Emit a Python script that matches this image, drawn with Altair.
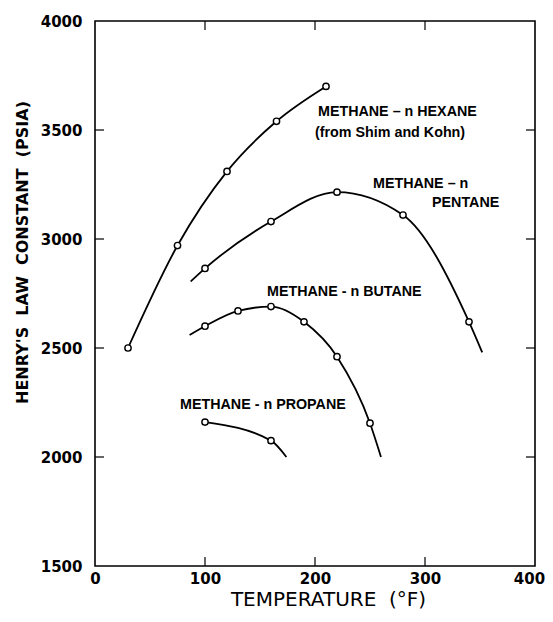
import altair as alt
import pandas as pd

# ---- measured points (temperature °F, Henry's constant psia) ----
hexane_t = [30, 75, 120, 165, 210]
hexane_k = [2500, 2970, 3310, 3540, 3700]

pentane_t = [100, 160, 220, 280, 340]
pentane_k = [2865, 3080, 3215, 3110, 2620]

butane_t = [100, 130, 160, 190, 220, 250]
butane_k = [2600, 2670, 2690, 2620, 2460, 2155]

propane_t = [100, 160]
propane_k = [2160, 2075]

# ---- where the drawn curves start / end beyond the points ----
pentane_ends_t = [87, 352]
pentane_ends_k = [2805, 2480]
butane_ends_t = [86, 260]
butane_ends_k = [2560, 2000]
propane_ends_t = [174]
propane_ends_k = [2000]

# ---- curve labels ----
label_text = ["METHANE – n HEXANE", "(from Shim and Kohn)", "METHANE – n", "PENTANE",
              "METHANE - n BUTANE", "METHANE - n PROPANE"]
label_t = [202.7, 200.0, 252.7, 306.4, 156.4, 77.3]
label_k = [3583, 3486, 3252, 3165, 2757, 2239]

x_ticks = [0, 100, 200, 300, 400]
y_ticks = [1500, 2000, 2500, 3000, 3500, 4000]
x_inner = [100, 200, 300]
y_inner = [2000, 2500, 3000, 3500]

W, H = 440, 545
NB = "\u00a0"

pts = pd.concat([
    pd.DataFrame({"t": hexane_t, "k": hexane_k, "s": "hexane"}),
    pd.DataFrame({"t": pentane_t, "k": pentane_k, "s": "pentane"}),
    pd.DataFrame({"t": butane_t, "k": butane_k, "s": "butane"}),
    pd.DataFrame({"t": propane_t, "k": propane_k, "s": "propane"}),
], ignore_index=True)

lines = pd.concat([
    pts,
    pd.DataFrame({"t": pentane_ends_t, "k": pentane_ends_k, "s": "pentane"}),
    pd.DataFrame({"t": butane_ends_t, "k": butane_ends_k, "s": "butane"}),
    pd.DataFrame({"t": propane_ends_t, "k": propane_ends_k, "s": "propane"}),
], ignore_index=True).sort_values(["s", "t"])

labels = pd.DataFrame({"t": label_t, "k": label_k, "txt": label_text})

xs = alt.Scale(domain=[0, 400], nice=False, zero=False)
ys = alt.Scale(domain=[1500, 4000], nice=False, zero=False)

x_axis = alt.Axis(values=x_ticks, format="d", ticks=False, domain=False, grid=False,
                  labelFont="DejaVu Sans", labelFontWeight="bold", labelFontSize=15,
                  labelColor="black", labelPadding=5, labelFlush=False,
                  labelOffset={"expr": "datum.value == 400 ? -6 : 0"},
                  title="TEMPERATURE" + NB + NB + "(°F)", titleFont="DejaVu Sans",
                  titleFontWeight="normal", titleFontSize=20, titleColor="black",
                  titleX=233, titleY=33, titleAlign="center", titleBaseline="middle")
y_axis = alt.Axis(values=y_ticks, format="d", ticks=False, domain=False, grid=False,
                  labelFont="DejaVu Sans", labelFontWeight="bold", labelFontSize=15,
                  labelColor="black", labelPadding=13,
                  title=(NB + NB).join(["HENRY'S", "LAW", "CONSTANT", "(PSIA)"]),
                  titleFont="DejaVu Sans", titleFontWeight="bold", titleFontSize=16,
                  titleColor="black", titleX=-73, titleY=231, titleAngle=270,
                  titleAlign="center", titleBaseline="middle")

X = lambda f: alt.X(f, scale=xs, axis=x_axis)
Y = lambda f: alt.Y(f, scale=ys, axis=y_axis)

line_layer = alt.Chart(lines).mark_line(color="black", strokeWidth=1.8, interpolate="monotone").encode(
    x=X("t:Q"), y=Y("k:Q"), detail="s:N", order="t:Q",
)

point_layer = alt.Chart(pts).mark_point(shape="circle", size=40, filled=True, fill="white",
                                         stroke="black", strokeWidth=1.4, opacity=1).encode(
    x=X("t:Q"), y=Y("k:Q"),
)

text_layer = alt.Chart(labels).mark_text(align="left", baseline="middle", font="Liberation Sans",
                                         fontWeight="bold", fontSize=14.3, color="black").encode(
    x=X("t:Q"), y=Y("k:Q"), text="txt:N",
)

tl = 9
xt = pd.DataFrame({"t": x_inner})
yt = pd.DataFrame({"k": y_inner})
bottom_ticks = alt.Chart(xt).mark_rule(color="black", strokeWidth=1.2).encode(
    x=X("t:Q"), y=alt.value(H), y2=alt.value(H - tl))
top_ticks = alt.Chart(xt).mark_rule(color="black", strokeWidth=1.2).encode(
    x=X("t:Q"), y=alt.value(0), y2=alt.value(tl))
left_ticks = alt.Chart(yt).mark_rule(color="black", strokeWidth=1.2).encode(
    y=Y("k:Q"), x=alt.value(0), x2=alt.value(tl))
right_ticks = alt.Chart(yt).mark_rule(color="black", strokeWidth=1.2).encode(
    y=Y("k:Q"), x=alt.value(W), x2=alt.value(W - tl))

chart = alt.layer(line_layer, point_layer, text_layer,
                  bottom_ticks, top_ticks, left_ticks, right_ticks).properties(
    width=W, height=H,
    autosize=alt.AutoSizeParams(type="none"),
    padding={"left": 87, "top": 13, "right": 10, "bottom": 46},
    background="white",
).configure_view(stroke="black", strokeWidth=1.6)

chart.save("out.html", embed_options={"renderer": "svg", "actions": False})
